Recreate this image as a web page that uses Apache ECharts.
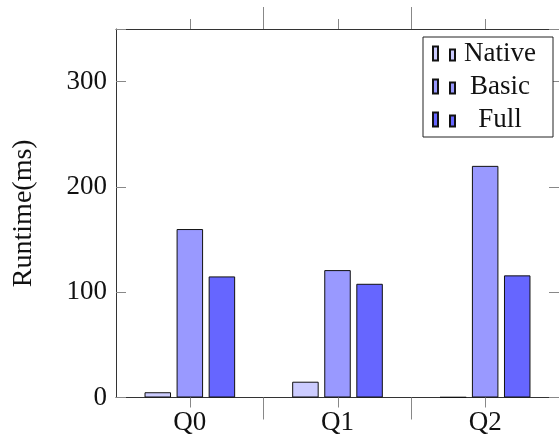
<!DOCTYPE html>
<html>
<head>
<meta charset="utf-8">
<script src="https://cdn.jsdelivr.net/npm/echarts@6/dist/echarts.min.js"></script>
<style>
html,body{margin:0;padding:0;background:#fff;}
#chart{width:559px;height:445px;}
</style>
</head>
<body>
<div id="chart"></div>
<script>
var categories = ['Q0', 'Q1', 'Q2'];
var seriesNames = ['Native', 'Basic', 'Full'];
var nativeValues = [5, 15, 0.3];
var basicValues = [160, 121, 220];
var fullValues = [115, 108, 116];
var yTicks = [0, 100, 200, 300];
var centerTicks = [0, 1, 2];
var boundaryTicks = [0.5, 1.5];
var yMin = 0;
var yMax = 350;

var colors = ['#ccccff', '#9999ff', '#6666ff'];
var FONT = '"Liberation Serif", "DejaVu Serif", serif';
var frameColor = '#333';
var tickColor = '#888';

var chart = echarts.init(document.getElementById('chart'), null, {renderer: 'canvas'});

function mkSeries(name, data, color) {
  return {
    name: name,
    type: 'bar',
    data: data,
    xAxisIndex: 0,
    yAxisIndex: 0,
    barWidth: 26.5,
    barGap: '21%',
    itemStyle: {color: color, borderColor: '#111', borderWidth: 1},
    emphasis: {disabled: true}
  };
}

function tickAxis(pos, ticks, len) {
  return {
    type: 'value',
    gridIndex: 0,
    position: pos,
    min: -0.5, max: 2.5, interval: 1,
    axisLine: {show: false, onZero: false},
    axisTick: {show: true, inside: false, length: len, customValues: ticks, lineStyle: {color: tickColor, width: 1}},
    axisLabel: {show: false},
    splitLine: {show: false}
  };
}

// short ticks at the centre of each category, top and bottom, placed through the axis scale
var centreTickSeries = {
  name: 'centreTicks',
  type: 'custom',
  xAxisIndex: 0,
  yAxisIndex: 0,
  silent: true,
  clip: false,
  z: 5,
  data: centerTicks.map(function (i) { return [i]; }),
  encode: {x: 0},
  renderItem: function (params, api) {
    var i = api.value(0);
    var bottom = api.coord([i, yMin]);
    var top = api.coord([i, yMax]);
    var x = Math.round(bottom[0]) + 0.5;
    var style = {stroke: tickColor, lineWidth: 1, fill: null};
    return {
      type: 'group',
      children: [
        {type: 'line', shape: {x1: x, y1: bottom[1], x2: x, y2: bottom[1] + 10}, style: style},
        {type: 'line', shape: {x1: x, y1: top[1] - 10, x2: x, y2: top[1]}, style: style}
      ]
    };
  }
};

var option = {
  animation: false,
  backgroundColor: '#fff',
  grid: {left: 116, top: 29, width: 445, bottom: 47.5, containLabel: false},
  legend: {
    orient: 'vertical',
    left: 423,
    top: 37,
    padding: [3, 13, 4, 9],
    backgroundColor: '#fff',
    borderColor: '#222',
    borderWidth: 1,
    itemWidth: 22,
    itemHeight: 14,
    itemGap: 6,
    symbolKeepAspect: false,
    icon: 'path://M0,0H5V14H0Z M17,3H22V14H17Z',
    data: seriesNames,
    formatter: function (n) { return '{t|' + n + '}'; },
    textStyle: {
      fontFamily: FONT,
      fontSize: 27,
      color: '#111',
      rich: {t: {width: 80, align: 'center', fontFamily: FONT, fontSize: 27, lineHeight: 24, color: '#111'}}
    }
  },
  xAxis: [
    {
      type: 'category',
      data: categories,
      position: 'bottom',
      axisLine: {show: true, onZero: false, lineStyle: {color: frameColor, width: 1}},
      axisTick: {show: false},
      axisLabel: {show: true, margin: 12, fontFamily: FONT, fontSize: 27, color: '#111'},
      splitLine: {show: false}
    },
    {
      type: 'category',
      data: categories,
      position: 'top',
      axisLine: {show: true, onZero: false, lineStyle: {color: frameColor, width: 1}},
      axisTick: {show: false},
      axisLabel: {show: false},
      splitLine: {show: false}
    },
    tickAxis('bottom', boundaryTicks, 22),
    tickAxis('top', boundaryTicks, 22)
  ],
  yAxis: [
    {
      type: 'value',
      position: 'left',
      min: yMin, max: yMax, interval: 100,
      name: 'Runtime(ms)',
      nameLocation: 'middle',
      nameGap: 78,
      nameRotate: 90,
      nameTextStyle: {fontFamily: FONT, fontSize: 28, color: '#111'},
      axisLine: {show: true, onZero: false, lineStyle: {color: frameColor, width: 1}},
      axisTick: {show: true, inside: true, length: 10, lineStyle: {color: tickColor}},
      axisLabel: {show: true, margin: 9, fontFamily: FONT, fontSize: 27, color: '#111',
        customValues: yTicks},
      splitLine: {show: false}
    },
    {
      type: 'value',
      position: 'right',
      min: yMin, max: yMax, interval: 100,
      axisLine: {show: true, onZero: false, lineStyle: {color: frameColor, width: 1}},
      axisTick: {show: true, inside: true, length: 10, lineStyle: {color: tickColor}},
      axisLabel: {show: false},
      splitLine: {show: false}
    }
  ],
  series: [
    mkSeries(seriesNames[0], nativeValues, colors[0]),
    mkSeries(seriesNames[1], basicValues, colors[1]),
    mkSeries(seriesNames[2], fullValues, colors[2]),
    centreTickSeries
  ]
};
chart.setOption(option);
</script>
</body>
</html>
